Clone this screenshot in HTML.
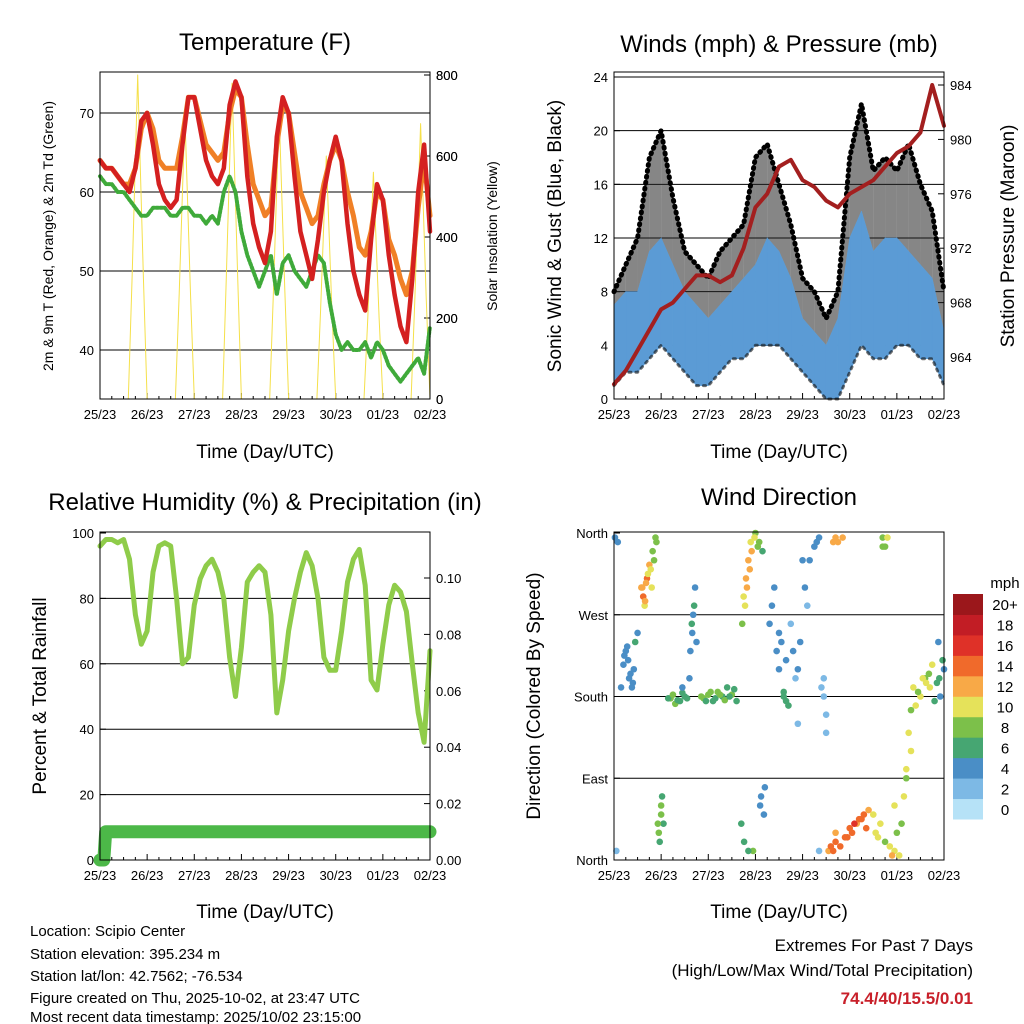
<!DOCTYPE html>
<html><head><meta charset="utf-8"><style>
body{margin:0;background:#fff}
svg{display:block;font-family:"Liberation Sans",Arial,sans-serif}
</style></head><body>
<svg id="c" width="1024" height="1024" viewBox="0 0 1024 1024">
<rect width="1024" height="1024" fill="#fff"/>
<text x="265" y="50" font-size="24" text-anchor="middle">Temperature (F)</text>
<text x="779" y="52" font-size="24" text-anchor="middle">Winds (mph) &amp; Pressure (mb)</text>
<text x="265" y="510" font-size="24" text-anchor="middle">Relative Humidity (%) &amp; Precipitation (in)</text>
<text x="779" y="505" font-size="24" text-anchor="middle">Wind Direction</text>
<text x="265" y="458" font-size="19" text-anchor="middle">Time (Day/UTC)</text>
<text x="779" y="458" font-size="19" text-anchor="middle">Time (Day/UTC)</text>
<text x="265" y="918" font-size="19" text-anchor="middle">Time (Day/UTC)</text>
<text x="779" y="918" font-size="19" text-anchor="middle">Time (Day/UTC)</text>
<text transform="translate(53,236) rotate(-90)" font-size="14" text-anchor="middle">2m &amp; 9m T (Red, Orange) &amp; 2m Td (Green)</text>
<text transform="translate(497,236) rotate(-90)" font-size="14" text-anchor="middle">Solar Insolation (Yellow)</text>
<text transform="translate(561,236) rotate(-90)" font-size="19" text-anchor="middle">Sonic Wind &amp; Gust (Blue, Black)</text>
<text transform="translate(1014,236) rotate(-90)" font-size="19" text-anchor="middle">Station Pressure (Maroon)</text>
<text transform="translate(46,696) rotate(-90)" font-size="19" text-anchor="middle">Percent &amp; Total Rainfall</text>
<text transform="translate(540,696) rotate(-90)" font-size="19" text-anchor="middle">Direction (Colored By Speed)</text>
<g font-size="15">
<text x="30" y="936">Location: Scipio Center</text>
<text x="30" y="959">Station elevation: 395.234 m</text>
<text x="30" y="981">Station lat/lon: 42.7562; -76.534</text>
<text x="30" y="1003">Figure created on Thu, 2025-10-02, at 23:47 UTC</text>
<text x="30" y="1022">Most recent data timestamp: 2025/10/02 23:15:00</text>
</g>
<text x="973" y="951" font-size="17" text-anchor="end">Extremes For Past 7 Days</text>
<text x="973" y="976" font-size="17" text-anchor="end">(High/Low/Max Wind/Total Precipitation)</text>
<text x="973" y="1004" font-size="17" font-weight="bold" fill="#c8202a" text-anchor="end">74.4/40/15.5/0.01</text>
<text x="1005" y="588" font-size="15" text-anchor="middle">mph</text>
</svg>
<script>
const dayLabels=["25/23","26/23","27/23","28/23","29/23","30/23","01/23","02/23"];
const redT=[64,63,63,62,61,60,63,69,70,66,61,59,58,59,66,72,72,68,64,62,61,63,71,74,72,62,56,53,51,55,67,72,70,62,55,52,49,54,60,64,67,64,56,50,47,45,54,61,59,52,47,43,41,49,60,66,55];
const orangeT=[64,63,63,62,61,61,63,68,70,68,64,63,63,63,67,72,72,69,66,65,64,65,70,73,72,66,61,59,57,58,66,71,70,65,60,58,56,57,61,64,66,64,60,57,53,52,55,60,59,54,52,49,47,50,58,64,57];
const greenTd=[62,61,61,60,60,59,58,57,57,58,58,58,57,57,58,58,57,57,56,57,56,60,62,60,55,52,50,48,50,52,47,51,52,50,49,48,50,52,51,46,42,40,41,40,40,41,39,41,40,38,37,36,37,38,39,37,43];
const solarT=[0,0.6,0.68,0.8,0.92,1.0,1.6,1.68,1.8,1.92,2.0,2.6,2.68,2.8,2.92,3.0,3.6,3.68,3.8,3.92,4.0,4.6,4.68,4.8,4.92,5.0,5.6,5.68,5.8,5.92,6.0,6.6,6.68,6.8,6.92,7];
const solarV=[0,0,300,800,300,0,0,260,700,260,0,0,300,780,300,0,0,270,710,270,0,0,220,600,220,0,0,200,560,200,0,0,250,680,250,0];
const rhV=[96,98,98,97,98,92,75,66,70,88,96,97,96,80,60,62,78,86,90,92,88,80,62,50,65,85,88,90,88,75,45,55,70,80,88,94,90,80,62,58,58,70,85,92,95,84,55,52,66,78,84,82,76,60,45,36,64];
const precipT=[0,0.08,0.12,7];
const precipV=[0,0,0.01,0.01];
const windLo=[1,2,2,3,4,3,2,1,1,2,3,3,4,4,4,3,2,1,0,0,2,4,3,3,4,4,3,3,1];
const windHi=[7,8,8,11,12,10,8,7,6,7,8,9,10,12,11,9,6,5,4,6,12,14,11,12,12,11,10,9,5];
const gustV=[8,10,12,18,20,15,11,10,9,11,12,13,18,19,16,13,9,8,6,8,18,22,17,18,17,19,16,14,8];
const pressV=[962,963,964.5,966,967.5,968,969,970,970,969.5,970,972,975,976,978,978.5,977,976.5,975.5,975,976,976.5,977,978,979,979.5,980.5,984,981];
const dirT=[0.02,0.05,0.08,0.25,0.3,0.35,0.4,0.45,0.5,0.6,0.65,0.7,0.75,0.8,0.85,0.9,0.95,1.0,1.05,1.2,1.3,1.4,1.5,1.6,1.65,1.7,1.75,1.9,2.0,2.1,2.2,2.3,2.4,2.5,2.7,2.75,2.8,2.85,2.9,2.95,3.0,3.05,3.1,3.2,3.35,3.4,3.5,3.6,3.7,3.8,3.9,4.0,4.1,4.3,4.4,4.5,4.55,4.7,4.75,4.8,4.85,4.95,5.05,5.15,5.25,5.35,5.5,5.6,5.7,5.75,5.95,6.05,6.1,6.15,6.2,6.3,6.4,6.5,6.6,6.7,6.8,6.9,7.0];
const dirDeg=[355,10,350,230,220,205,195,240,250,300,280,310,325,300,330,350,30,60,40,178,172,175,180,200,260,280,240,178,182,175,185,180,190,182,40,290,310,330,350,10,360,345,60,80,280,300,250,185,170,230,210,330,280,350,190,160,10,20,350,15,355,25,30,40,45,35,50,25,355,345,10,5,40,70,90,120,170,180,200,190,175,200,210];
const dirSpd=[3,2,3,4,4,3,4,5,4,12,10,14,12,9,8,7,7,7,6,7,7,6,6,4,5,5,4,7,7,6,7,6,6,7,5,9,11,12,10,8,8,7,3,4,3,3,4,6,6,3,3,4,2,4,1,1,12,14,12,13,11,14,13,12,14,13,10,9,8,8,10,9,8,9,8,9,10,9,8,10,6,5,4];
const dirT2=[0.2,0.22,0.28,0.32,0.38,0.42,0.15,0.58,0.62,0.68,0.72,0.78,0.82,0.88,0.66,0.93,0.97,1.02,1.0,1.15,1.25,1.35,1.45,1.55,1.45,1.62,1.68,1.72,1.66,1.85,1.95,2.05,2.15,2.25,2.35,2.45,2.55,2.6,2.72,2.78,2.82,2.88,2.92,2.98,2.76,2.85,3.08,3.15,3.12,3.18,3.3,3.45,3.5,3.55,3.6,3.65,3.65,3.75,3.85,3.95,4.05,4.15,3.9,4.25,4.35,4.45,4.5,4.35,4.45,4.6,4.65,4.7,4.9,5.0,5.1,5.2,5.3,5.4,4.65,4.7,5.55,5.65,5.75,5.85,5.9,5.95,6.0,5.7,5.8,6.2,6.25,6.3,6.35,6.45,6.55,6.62,6.68,6.75,6.85,6.92,6.97,6.88];
const dirDeg2=[215,225,235,200,190,210,190,300,290,305,315,320,340,355,285,40,20,70,50,178,182,176,184,178,190,230,270,300,250,180,175,185,178,182,176,180,188,175,260,280,300,320,340,355,20,10,350,340,70,50,260,230,210,240,180,175,220,260,200,240,300,330,150,345,355,180,140,10,200,15,10,30,25,35,40,45,50,55,350,355,30,40,20,15,5,60,30,345,355,100,140,165,190,185,200,195,205,215,195,180,220,240];
const dirSpd2=[4,4,3,4,4,3,3,12,13,11,10,9,8,7,12,7,6,6,7,6,7,6,5,5,4,4,3,4,4,7,6,7,6,7,8,6,5,6,8,10,11,12,11,10,5,6,7,6,3,4,3,4,3,4,6,5,3,2,2,3,4,3,2,4,3,1,2,1,2,14,13,12,14,13,15,14,13,12,12,11,9,10,8,10,11,9,8,8,9,10,9,8,10,8,9,10,8,9,5,4,5,3];
const spdLabels=["0","2","4","6","8","10","12","14","16","18","20+"];
const spdColors=["#b6e2f7","#7db9e5","#4a8ec6","#46a672","#7cc04a","#e5e25a","#f8a947","#f06a2b","#df3128","#c21d25","#9b171b"];

const svg=document.getElementById('c');
const NS='http://www.w3.org/2000/svg';
function mk(tag,attrs,parent){const e=document.createElementNS(NS,tag);for(const k in attrs)e.setAttribute(k,attrs[k]);(parent||svg).appendChild(e);return e;}
function lin(d0,d1,r0,r1){return v=>r0+(v-d0)*(r1-r0)/(d1-d0);}
function colorFor(s){let i=Math.round(s/2);if(i>10)i=10;if(i<0)i=0;return spdColors[i];}

const panels=[
 {name:'temp',x0:100,x1:430,y0:72,y1:399},
 {name:'wind',x0:614,x1:944,y0:72,y1:399},
 {name:'rh',x0:100,x1:430,y0:532,y1:860},
 {name:'dir',x0:614,x1:944,y0:532,y1:860}];
panels.forEach(p=>{p.x=lin(0,7,p.x0,p.x1);});
const P={};panels.forEach(p=>P[p.name]=p);
P.temp.y=lin(40,70,350,113);P.temp.y2=lin(0,800,399,75);
P.wind.y=lin(0,24,399,77);P.wind.y2=lin(964,984,357,85);
P.rh.y=lin(0,100,860,533);P.rh.y2=lin(0,0.1,860,578);
P.dir.y=lin(0,360,860,533);

function gridline(p,yy,nm){const l=mk('line',{x1:p.x0,x2:p.x1,y1:yy,y2:yy,stroke:'#000','stroke-width':1});

}
function ytick(p,yy,lab,side,nm){const x=side==='l'?p.x0:p.x1;const dir=side==='l'?1:-1;
const t=mk('line',{x1:x,x2:x+dir*6,y1:yy,y2:yy,stroke:'#000'});


const tx=mk('text',{x:side==='l'?x-6:x+6,y:yy+5,'font-size':13,'text-anchor':side==='l'?'end':'start'});tx.textContent=lab;

}

[40,50,60,70].forEach(v=>{gridline(P.temp,P.temp.y(v),'temp-gridline');ytick(P.temp,P.temp.y(v),String(v),'l','temp-y');});
[0,200,400,600,800].forEach(v=>ytick(P.temp,P.temp.y2(v),String(v),'r','solar-y'));
[0,200,400,600,800].forEach(v=>ytick(P.temp,P.temp.y2(v),String(v),'r','solar-y'));
[4,8,12,16,20,24].forEach(v=>gridline(P.wind,P.wind.y(v),'wind-gridline'));
[0,4,8,12,16,20,24].forEach(v=>ytick(P.wind,P.wind.y(v),String(v),'l','wind-y'));
[964,968,972,976,980,984].forEach(v=>ytick(P.wind,P.wind.y2(v),String(v),'r','pressure-y'));
[20,40,60,80].forEach(v=>gridline(P.rh,P.rh.y(v),'rh-gridline'));
[0,20,40,60,80,100].forEach(v=>ytick(P.rh,P.rh.y(v),String(v),'l','rh-y'));
[0,0.02,0.04,0.06,0.08,0.1].forEach(v=>ytick(P.rh,P.rh.y2(v),v.toFixed(2),'r','precip-y'));
const dirNames=["North","East","South","West","North"];
[0,90,180,270,360].forEach((v,i)=>{if(i>0&&i<4)gridline(P.dir,P.dir.y(v),'dir-gridline');ytick(P.dir,P.dir.y(v),dirNames[i],'l','dir-y');});

panels.forEach(p=>{dayLabels.forEach((lab,i)=>{const xx=p.x(i);
const t=mk('line',{x1:xx,x2:xx,y1:p.y1,y2:p.y1-6,stroke:'#000'});


const tx=mk('text',{x:xx,y:p.y1+20,'font-size':13,'text-anchor':'middle'});tx.textContent=lab;

});
for(let q=0;q<=28;q++){if(q%4===0)continue;const xx=p.x(q/4);const t=mk('line',{x1:xx,x2:xx,y1:p.y1,y2:p.y1-3,stroke:'#000'});

}});

function path(p,xs,ys,yf,attrs,nm){const d=xs.map((t,i)=>(i?'L':'M')+p.x(t).toFixed(1)+','+yf(ys[i]).toFixed(1)).join('');
const e=mk('path',Object.assign({d:d,fill:'none','stroke-linejoin':'round','stroke-linecap':'round'},attrs));

return e;}
const t8=redT.map((_,i)=>i/8);
const t4=windLo.map((_,i)=>i/4);

path(P.temp,solarT,solarV,P.temp.y2,{stroke:'#f5e04a','stroke-width':1},'solar-line');
path(P.temp,t8,greenTd,P.temp.y,{stroke:'#3faa3a','stroke-width':4,'stroke-dasharray':'2 2'},'dewpoint-line');
path(P.temp,t8,orangeT,P.temp.y,{stroke:'#f08026','stroke-width':5},'temp-9m-line');
path(P.temp,t8,redT,P.temp.y,{stroke:'#d42020','stroke-width':4.5},'temp-2m-line');

for(let i=0;i<t4.length-1;i++){
 const xa=P.wind.x(t4[i]),xb=P.wind.x(t4[i+1]);
 const ga=P.wind.y(gustV[i]),gb=P.wind.y(gustV[i+1]),ha=P.wind.y(windHi[i]),hb=P.wind.y(windHi[i+1]);
 const g=mk('polygon',{points:`${xa},${ga} ${xb},${gb} ${xb},${hb} ${xa},${ha}`,fill:'#222',opacity:0.55});
 
 
}
for(let i=0;i<t4.length-1;i++){
 const xa=P.wind.x(t4[i]),xb=P.wind.x(t4[i+1]);
 const ya=P.wind.y(windHi[i]),yb=P.wind.y(windHi[i+1]),la=P.wind.y(windLo[i]),lb=P.wind.y(windLo[i+1]);
 const e=mk('polygon',{points:`${xa},${ya} ${xb},${yb} ${xb},${lb} ${xa},${la}`,fill:'#5b9bd5',stroke:'#5b9bd5','stroke-width':0.6});
 
 
}
path(P.wind,t4,windLo,P.wind.y,{stroke:'#111','stroke-width':3,'stroke-dasharray':'2 5',opacity:0.6},'wind-low-dots');
path(P.wind,t4,gustV,P.wind.y,{stroke:'#000','stroke-width':5,'stroke-dasharray':'1 5'},'gust-dots');
path(P.wind,t4,pressV,P.wind.y2,{stroke:'#a31f1f','stroke-width':4},'pressure-line');

path(P.rh,t8,rhV,P.rh.y,{stroke:'#8fcc4a','stroke-width':5},'rh-line');
path(P.rh,precipT,precipV,P.rh.y2,{stroke:'#4cb848','stroke-width':13},'precip-line');

function dirPts(ts,ds,ss){ts.forEach((t,i)=>{const e=mk('circle',{cx:P.dir.x(t),cy:P.dir.y(ds[i]),r:3.3,fill:colorFor(ss[i])});

});}
dirPts(dirT,dirDeg,dirSpd);
dirPts(dirT2,dirDeg2,dirSpd2);

const bh=225/11;
spdColors.forEach((c,i)=>{const yy=819-(i+1)*bh;
const r=mk('rect',{x:953,y:yy,width:30,height:bh+0.5,fill:c});


const tx=mk('text',{x:1005,y:yy+bh/2+6,'font-size':15,'text-anchor':'middle'});tx.textContent=spdLabels[i];

});

panels.forEach(p=>{const r=mk('rect',{x:p.x0,y:p.y0,width:p.x1-p.x0,height:p.y1-p.y0,fill:'none',stroke:'#000','stroke-width':1});

});
</script>
</body></html>
